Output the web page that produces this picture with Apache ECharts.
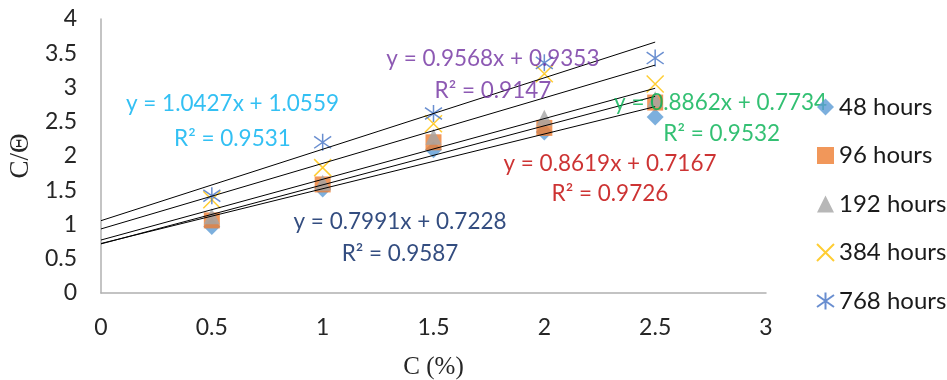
<!DOCTYPE html>
<html><head><meta charset="utf-8">
<script src="https://cdn.jsdelivr.net/npm/echarts@6/dist/echarts.min.js"></script>
<style>html,body{margin:0;padding:0;background:#fff}#c{width:947px;height:380px}</style>
</head><body><div id="c"></div>
<script>
// ---- data ----
const xValues = [0.5, 1, 1.5, 2, 2.5];
const seriesNames = ['48 hours', '96 hours', '192 hours', '384 hours', '768 hours'];
const h48  = [0.97, 1.52, 2.09, 2.35, 2.57];
const h96  = [1.06, 1.585, 2.2, 2.41, 2.78];
const h192 = [1.12, 1.61, 2.28, 2.56, 2.83];
const h384 = [1.36, 1.83, 2.47, 3.2, 3.05];
const h768 = [1.42, 2.2, 2.62, 3.36, 3.43];
const slopes     = [0.7991, 0.8619, 0.8862, 0.9568, 1.0427];
const intercepts = [0.7228, 0.7167, 0.7734, 0.9353, 1.0559];
const rSquared   = [0.9587, 0.9726, 0.9532, 0.9147, 0.9531];
const trendRange = [0, 2.5];
const xTicks = [0, 0.5, 1, 1.5, 2, 2.5, 3];
const yTicks = [0, 0.5, 1, 1.5, 2, 2.5, 3, 3.5, 4];

// ---- styling / layout ----
const markerColors = ['#5B9BD5', '#ED7D31', '#A5A5A5', '#FFC000', '#4472C4'];
const eqColors = ['#002060', '#C00000', '#00B050', '#7030A0', '#00B0F0'];
// label anchor positions (data coords) for equation and R² lines, per series
const eqPos = [[1.349, 1.033], [2.296, 1.880], [2.795, 2.778], [1.768, 3.418], [0.593, 2.764]];
const r2Pos = [[1.349, 0.567], [2.296, 1.445], [2.800, 2.327], [1.768, 2.953], [0.593, 2.255]];

const allValues = [h48, h96, h192, h384, h768];
const symbols = [
  {symbol: 'diamond', size: 17, fill: true},
  {symbol: 'rect', size: 16, fill: true},
  {symbol: 'triangle', size: 16, fill: true},
  {symbol: 'path://M0,0L10,10M10,0L0,10', size: 17, fill: false},
  {symbol: 'path://M5,0L5,10M0,1.5L10,8.5M10,1.5L0,8.5', size: 17, fill: false}
];
const FONT = 'Lato';

const series = [];
seriesNames.forEach((name, i) => {
  const s = symbols[i];
  series.push({
    name: name,
    type: 'scatter',
    z: 2 + i * 0.01,
    symbol: s.symbol,
    symbolSize: s.size,
    itemStyle: s.fill ? {color: markerColors[i]} :
      {color: 'transparent', borderColor: markerColors[i], borderWidth: 1.5},
    emphasis: {disabled: true},
    data: xValues.map((x, k) => [x, allValues[i][k]])
  });
});
seriesNames.forEach((name, i) => {
  series.push({
    name: 'trend ' + name,
    type: 'line',
    z: 3,
    silent: true,
    symbol: 'none',
    lineStyle: {color: '#000', width: 1},
    data: trendRange.map(x => [x, intercepts[i] + slopes[i] * x])
  });
});
const fmt = (v) => v.toFixed(4);
const annData = [];
seriesNames.forEach((name, i) => {
  annData.push({value: eqPos[i], text: 'y = ' + fmt(slopes[i]) + 'x + ' + fmt(intercepts[i]), color: eqColors[i]});
  annData.push({value: r2Pos[i], text: 'R² = ' + fmt(rSquared[i]), color: eqColors[i]});
});
series.push({
  name: 'equations',
  type: 'scatter',
  z: 4,
  silent: true,
  clip: false,
  symbolSize: 0,
  data: annData.map(a => ({
    value: a.value,
    label: {
      show: true, position: [0, 0], align: 'center', verticalAlign: 'middle',
      formatter: a.text, color: a.color, fontFamily: FONT, fontSize: 22.5
    }
  }))
});

const chart = echarts.init(document.getElementById('c'), null, {renderer: 'canvas'});
chart.setOption({
  animation: false,
  backgroundColor: '#fff',
  grid: {left: 101, right: 181, top: 19, bottom: 87, containLabel: false, outerBoundsMode: 'none'},
  legend: {
    z: 6,
    data: seriesNames,
    orient: 'vertical',
    left: 811, top: 90,
    itemWidth: 17, itemHeight: 17, itemGap: 24.5,
    textStyle: {fontFamily: FONT, fontSize: 24, color: '#1a1a1a'}
  },
  xAxis: {
    type: 'value', min: xTicks[0], max: xTicks[xTicks.length - 1], interval: xTicks[1] - xTicks[0],
    axisLine: {show: true, lineStyle: {color: '#b0b0b0', width: 1.5}},
    axisTick: {show: false}, splitLine: {show: false},
    axisLabel: {margin: 23, fontFamily: FONT, fontSize: 23, color: '#262626'},
    name: 'C (%)', nameLocation: 'middle', nameGap: 62,
    nameTextStyle: {fontFamily: 'Liberation Serif', fontSize: 25, color: '#262626'}
  },
  yAxis: {
    type: 'value', min: yTicks[0], max: yTicks[yTicks.length - 1], interval: yTicks[1] - yTicks[0],
    axisLine: {show: true, lineStyle: {color: '#b0b0b0', width: 1.5}},
    axisTick: {show: false}, splitLine: {show: false},
    axisLabel: {margin: 24, fontFamily: FONT, fontSize: 23, color: '#262626'},
    name: 'C/Θ', nameLocation: 'middle', nameGap: 63, nameRotate: 90,
    nameTextStyle: {fontFamily: 'Liberation Serif', fontSize: 27, color: '#262626'}
  },
  series: series
});
</script></body></html>
